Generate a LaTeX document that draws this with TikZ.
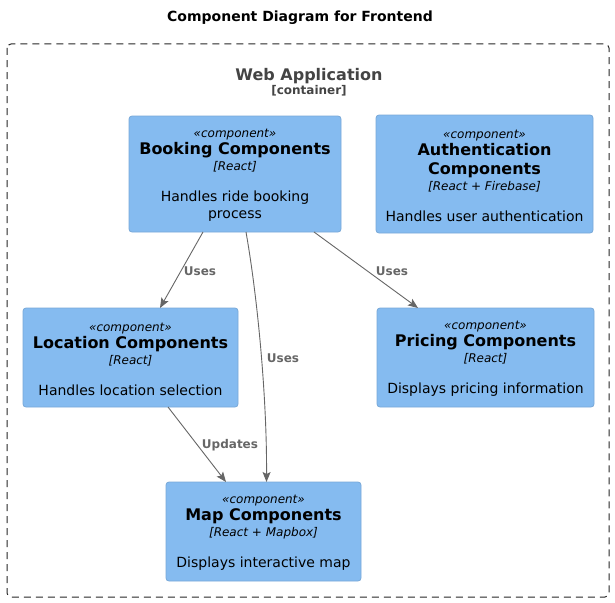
\documentclass[tikz,border=0pt]{standalone}
\usepackage{fontspec}
\setmainfont{DejaVu Sans}
\usetikzlibrary{arrows.meta}
\definecolor{compfill}{HTML}{85BBF0}
\definecolor{compline}{HTML}{78A8D8}
\definecolor{relgray}{HTML}{666666}
\definecolor{contgray}{HTML}{444444}
\newcommand\cstereo{\itshape\fontsize{12}{14}\selectfont}
\newcommand\cname{\bfseries\fontsize{16}{19}\selectfont}
\newcommand\ctech{\itshape\fontsize{12}{14}\selectfont}
\tikzset{
  comp/.style={draw=compline, fill=compfill, rounded corners=3pt, line width=0.8pt, inner sep=0pt},
  comptext/.style={align=center, inner sep=0pt, font=\fontsize{14}{17}\selectfont, text=black, yshift=-1.5pt},
  rel/.style={draw=relgray, line width=0.9pt, -{Stealth[length=10pt,width=8pt,inset=2pt]}, fill=none},
  rellabel/.style={text=relgray, font=\bfseries\fontsize{12}{14}\selectfont, inner sep=0pt},
  container/.style={draw=black!85, line width=1pt, dash pattern=on 7pt off 5pt, rounded corners=4pt}
}
\begin{document}
\begin{tikzpicture}[x=1pt,y=-1pt]
\useasboundingbox (0,0) rectangle (615,602);
\node[font=\bfseries\fontsize{14}{16}\selectfont, inner sep=0pt] (title) at (300,18) {Component Diagram for Frontend};
\draw[container] (7,44) rectangle (609,597);
\node[font=\bfseries\fontsize{16}{19}\selectfont, text=contgray, inner sep=0pt] (wa) at (309,76) {Web Application};
\node[font=\bfseries\fontsize{12}{14}\selectfont, text=contgray, inner sep=0pt] (wat) at (309,91) {[container]};

% Booking
\node[comp, minimum width=212pt, minimum height=116pt] (book) at (235,174) {};
\node[comptext] (book-t) at (book.center) {{\cstereo «component»}\\{\cname Booking Components}\\[-1pt]{\ctech [React]}\\[14pt]Handles ride booking\\process};

% Authentication
\node[comp, minimum width=217pt, minimum height=118pt] (auth) at (484.5,174) {};
\node[comptext] (auth-t) at (auth.center) {{\cstereo «component»}\\{\cname Authentication}\\[2pt]{\cname Components}\\[-1pt]{\ctech [React + Firebase]}\\[14pt]Handles user authentication};

% Location
\node[comp, minimum width=215pt, minimum height=99pt] (loc) at (130.5,357.5) {};
\node[comptext] (loc-t) at (loc.center) {{\cstereo «component»}\\{\cname Location Components}\\[-1pt]{\ctech [React]}\\[14pt]Handles location selection};

% Pricing
\node[comp, minimum width=217pt, minimum height=99pt] (price) at (485.5,357.5) {};
\node[comptext] (price-t) at (price.center) {{\cstereo «component»}\\{\cname Pricing Components}\\[-1pt]{\ctech [React]}\\[14pt]Displays pricing information};

% Map
\node[comp, minimum width=195pt, minimum height=99pt] (map) at (263.5,531.5) {};
\node[comptext] (map-t) at (map.center) {{\cstereo «component»}\\{\cname Map Components}\\[-1pt]{\ctech [React + Mapbox]}\\[14pt]Displays interactive map};

% coordinates on borders
\coordinate (b1) at (203,232);
\coordinate (b2) at (246,232);
\coordinate (b3) at (314,232);
\coordinate (l1) at (160,308);
\coordinate (p1) at (418,308);
\coordinate (m1) at (226,482);
\coordinate (m2) at (266.5,482);
\coordinate (l2) at (168,407);

\draw[rel] (b1) -- (l1);
\draw[rel] (b2) .. controls (258,300) and (267,400) .. (m2);
\draw[rel] (b3) -- (p1);
\draw[rel] (l2) -- (m1);

\node[rellabel] (u1) at (200,271) {Uses};
\node[rellabel] (u2) at (283,358) {Uses};
\node[rellabel] (u3) at (392,271) {Uses};
\node[rellabel] (u4) at (230,445) {Updates};
\end{tikzpicture}
\end{document}
